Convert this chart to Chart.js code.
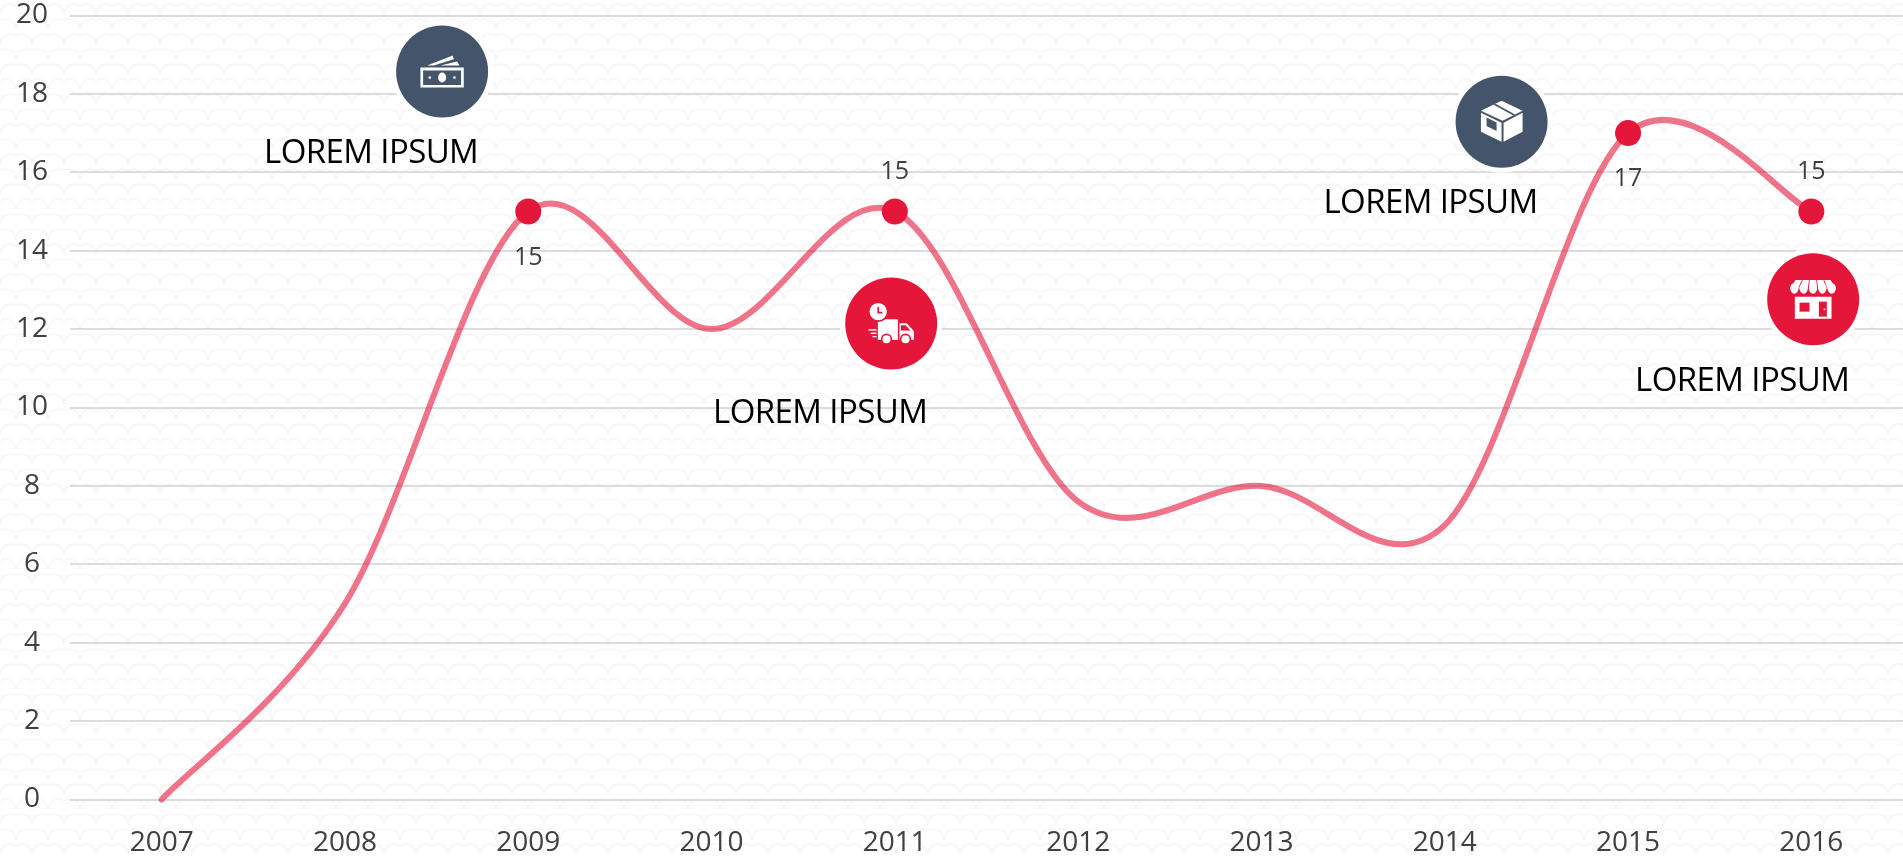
<!DOCTYPE html>
<html>
<head>
<meta charset="utf-8">
<title>Lorem ipsum timeline</title>
<script src="https://cdn.jsdelivr.net/npm/chart.js@4"></script>
<style>
html, body { margin: 0; padding: 0; background-color: #fff; overflow: hidden; }
#wrap { position: absolute; left: 0; top: 0; width: 1903px; height: 858px; }
#bg { position: absolute; inset: 0; }
canvas#chart { position: absolute; left: 0; top: 0; }
</style>
</head>
<body>
<div id="wrap">
  <div id="bg"></div>
  <canvas id="chart" width="1903" height="858"></canvas>
</div>
<script>
// chart values
const years = ['2007', '2008', '2009', '2010', '2011', '2012', '2013', '2014', '2015', '2016'];
const values = [0, 5, 15, 12, 15, 7.6, 8, 7, 17, 15];
const yTicks = [0, 2, 4, 6, 8, 10, 12, 14, 16, 18, 20];

// which years get a dot + number, and which side the number sits on (1 below, -1 above)
const markedYears = ['2009', '2011', '2015', '2016'];
const labelSides = [1, -1, 1, -1];

// callouts, in axis units (category index / value)
const calloutText = ['LOREM IPSUM', 'LOREM IPSUM', 'LOREM IPSUM', 'LOREM IPSUM'];
const calloutCat = [1.53, 3.98, 7.31, 9.01];
const calloutVal = [18.57, 12.14, 17.29, 12.76];
const calloutIcon = ['money', 'truck', 'box', 'shop'];

const RED = '#E4173B';
const SLATE = '#44546A';

// background scale tile
const tile = `<svg xmlns="http://www.w3.org/2000/svg" width="32" height="30"><g fill="none" stroke="#f5f5f5" stroke-width="1.5"><path d="M0 15C0 4 12 2 16 6C20 2 32 4 32 15"/><path d="M-16 30C-16 19 -4 17 0 21C4 17 16 19 16 30C16 19 28 17 32 21C36 17 48 19 48 30"/></g></svg>`;
document.getElementById('bg').style.backgroundImage = 'url("data:image/svg+xml,' + encodeURIComponent(tile) + '")';

function poly(ctx, pts, fill) {
    ctx.fillStyle = fill;
    ctx.beginPath();
    pts.forEach((p, i) => i ? ctx.lineTo(p[0], p[1]) : ctx.moveTo(p[0], p[1]));
    ctx.closePath();
    ctx.fill();
}
function disc(ctx, x, y, rx, ry, fill) {
    ctx.fillStyle = fill;
    ctx.beginPath();
    ctx.ellipse(x, y, rx, ry, 0, 0, Math.PI * 2);
    ctx.fill();
}

// icon shapes, drawn around (0,0) in thirds of a pixel
const icons = {
    money(ctx, bg) {
        poly(ctx, [[-45, -18], [32, -48], [35, -37], [-25, -18]], '#fff');
        poly(ctx, [[-5, -18], [45, -30], [52, -18]], '#fff');
        poly(ctx, [[-65, -12], [65, -12], [65, 48], [-65, 48]], '#fff');
        poly(ctx, [[-57, -3], [57, -3], [57, 40], [-57, 40]], bg);
        disc(ctx, 0, 18, 12, 15, '#fff');
        disc(ctx, -37, 18, 4, 4, '#fff');
        disc(ctx, 37, 18, 4, 4, '#fff');
    },
    truck(ctx, bg) {
        poly(ctx, [[-40, -13], [20, -13], [20, 49], [-40, 49]], '#fff');
        disc(ctx, -39, -36, 31, 31, bg);
        disc(ctx, -39, -36, 26, 26, '#fff');
        ctx.strokeStyle = bg;
        ctx.lineWidth = 5;
        ctx.beginPath();
        ctx.moveTo(-39, -50);
        ctx.lineTo(-39, -33);
        ctx.lineTo(-26, -33);
        ctx.stroke();
        poly(ctx, [[25, -1], [46, -1], [68, 22], [68, 49], [25, 49]], '#fff');
        poly(ctx, [[29, 5], [43, 5], [58, 21], [29, 21]], bg);
        disc(ctx, -14, 47, 17, 17, bg);
        disc(ctx, -14, 47, 12, 12, '#fff');
        disc(ctx, 43, 47, 17, 17, bg);
        disc(ctx, 43, 47, 12, 12, '#fff');
        ctx.strokeStyle = '#fff';
        ctx.lineWidth = 4;
        [[-68, 19], [-62, 29], [-56, 39]].forEach(l => {
            ctx.beginPath();
            ctx.moveTo(l[0], l[1]);
            ctx.lineTo(-44, l[1]);
            ctx.stroke();
        });
    },
    box(ctx, bg) {
        poly(ctx, [[-62, -33], [0, -63], [63, -33], [3, -3]], '#fff');
        poly(ctx, [[-62, -27], [0, 3], [0, 60], [-62, 30]], '#fff');
        poly(ctx, [[6, 3], [63, -27], [63, 30], [6, 60]], '#fff');
        poly(ctx, [[-45, -13], [-15, 2], [-15, 28], [-45, 13]], bg);
        ctx.strokeStyle = bg;
        ctx.lineWidth = 5;
        ctx.beginPath();
        ctx.moveTo(-22, -53);
        ctx.lineTo(38, -20);
        ctx.stroke();
    },
    shop(ctx, bg) {
        poly(ctx, [[-55, -8], [55, -8], [55, 58], [-55, 58]], '#fff');
        poly(ctx, [[-41, 10], [-11, 10], [-11, 37], [-41, 37]], bg);
        poly(ctx, [[17, 7], [41, 7], [41, 52], [17, 52]], bg);
        disc(ctx, 34, 30, 2.5, 2.5, '#fff');
        // awning panels with rounded bottoms
        for (let k = 0; k < 5; k++) {
            const bl = -69 + k * 28, br = bl + 25;
            const tl = -53 + k * 21.5, tr = tl + 19;
            disc(ctx, (bl + br) / 2, -33, 14, 20, bg);
            poly(ctx, [[tl, -58], [tr, -58], [br, -33], [bl, -33]], '#fff');
            disc(ctx, (bl + br) / 2, -33, 12.5, 16, '#fff');
        }
    }
};

// uniform Catmull-Rom handles: the line element keeps drawing, only its handles change
const smoothPlugin = {
    id: 'smooth',
    beforeDatasetsDraw(chart) {
        const meta = chart.getDatasetMeta(0);
        meta.dataset.updateControlPoints(chart.chartArea);
        const pts = meta.data;
        pts.forEach((p, i) => {
            const prev = pts[Math.max(i - 1, 0)];
            const next = pts[Math.min(i + 1, pts.length - 1)];
            const dx = (next.x - prev.x) / 6;
            const dy = (next.y - prev.y) / 6;
            p.cp1x = p.x - dx;
            p.cp1y = p.y - dy;
            p.cp2x = p.x + dx;
            p.cp2y = p.y + dy;
        });
    }
};

const calloutPlugin = {
    id: 'callouts',
    afterDatasetsDraw(chart) {
        const { ctx, scales: { x, y } } = chart;
        // numbers next to the dots
        ctx.save();
        ctx.font = '25px "Open Sans"';
        ctx.fillStyle = '#404040';
        ctx.textAlign = 'center';
        ctx.textBaseline = 'middle';
        markedYears.forEach((yr, i) => {
            const idx = years.indexOf(yr);
            ctx.fillText(String(values[idx]), x.getPixelForValue(idx), y.getPixelForValue(values[idx]) + labelSides[i] * 43 + 3);
        });
        ctx.restore();

        calloutText.forEach((txt, i) => {
            const cx = x.getPixelForValue(calloutCat[i]);
            const cy = y.getPixelForValue(calloutVal[i]);
            const fill = (calloutIcon[i] === 'money' || calloutIcon[i] === 'box') ? SLATE : RED;
            ctx.save();
            disc(ctx, cx, cy, 51, 51, '#fff');
            disc(ctx, cx, cy, 46, 46, fill);
            ctx.translate(cx, cy);
            ctx.scale(1 / 3, 1 / 3);
            icons[calloutIcon[i]](ctx, fill);
            ctx.restore();

            ctx.save();
            ctx.font = '33px "Open Sans"';
            ctx.letterSpacing = '-0.6px';
            ctx.fillStyle = '#000';
            ctx.textAlign = 'center';
            ctx.textBaseline = 'alphabetic';
            // the truck callout sits a little lower under its circle
            ctx.fillText(txt, cx - 71, cy + (calloutIcon[i] === 'truck' ? 99.5 : 91.5));
            ctx.restore();
        });
    }
};

// axis labels may overhang the plot, as they do in the original
function noOverhang(s) {
    s.paddingLeft = s.paddingRight = s.paddingTop = s.paddingBottom = 0;
    s._margins = { left: 0, right: 0, top: 0, bottom: 0 };
}

new Chart(document.getElementById('chart'), {
    type: 'line',
    data: {
        labels: years,
        datasets: [{
            data: values,
            borderColor: 'rgba(228, 23, 59, 0.6)',
            borderWidth: 6,
            borderCapStyle: 'round',
            tension: 0.4,
            fill: false,
            clip: false,
            pointBackgroundColor: RED,
            pointBorderWidth: 0,
            pointRadius: years.map(yr => markedYears.includes(yr) ? 13 : 0),
            pointHoverRadius: years.map(yr => markedYears.includes(yr) ? 13 : 0)
        }]
    },
    options: {
        responsive: false,
        animation: false,
        layout: { autoPadding: false, padding: { top: 15.5, left: 0, right: 0, bottom: 0 } },
        plugins: { legend: { display: false }, tooltip: { enabled: false } },
        scales: {
            x: {
                offset: true,
                grid: { display: false },
                border: { display: false },
                afterFit: s => { s.height = 58.5; noOverhang(s); },
                ticks: { color: '#404040', font: { family: '"Open Sans"', size: 28 }, padding: 19, maxRotation: 0, autoSkip: false }
            },
            y: {
                min: yTicks[0],
                max: yTicks[yTicks.length - 1],
                grid: { color: '#dcdcdc', lineWidth: 2, drawTicks: false },
                border: { display: false },
                afterFit: s => { s.width = 70; noOverhang(s); },
                afterBuildTicks: s => { s.ticks = yTicks.map(v => ({ value: v })); },
                ticks: { color: '#404040', font: { family: '"Open Sans"', size: 28 }, padding: 22, crossAlign: 'center' }
            }
        }
    },
    plugins: [smoothPlugin, calloutPlugin]
});
</script>
</body>
</html>
